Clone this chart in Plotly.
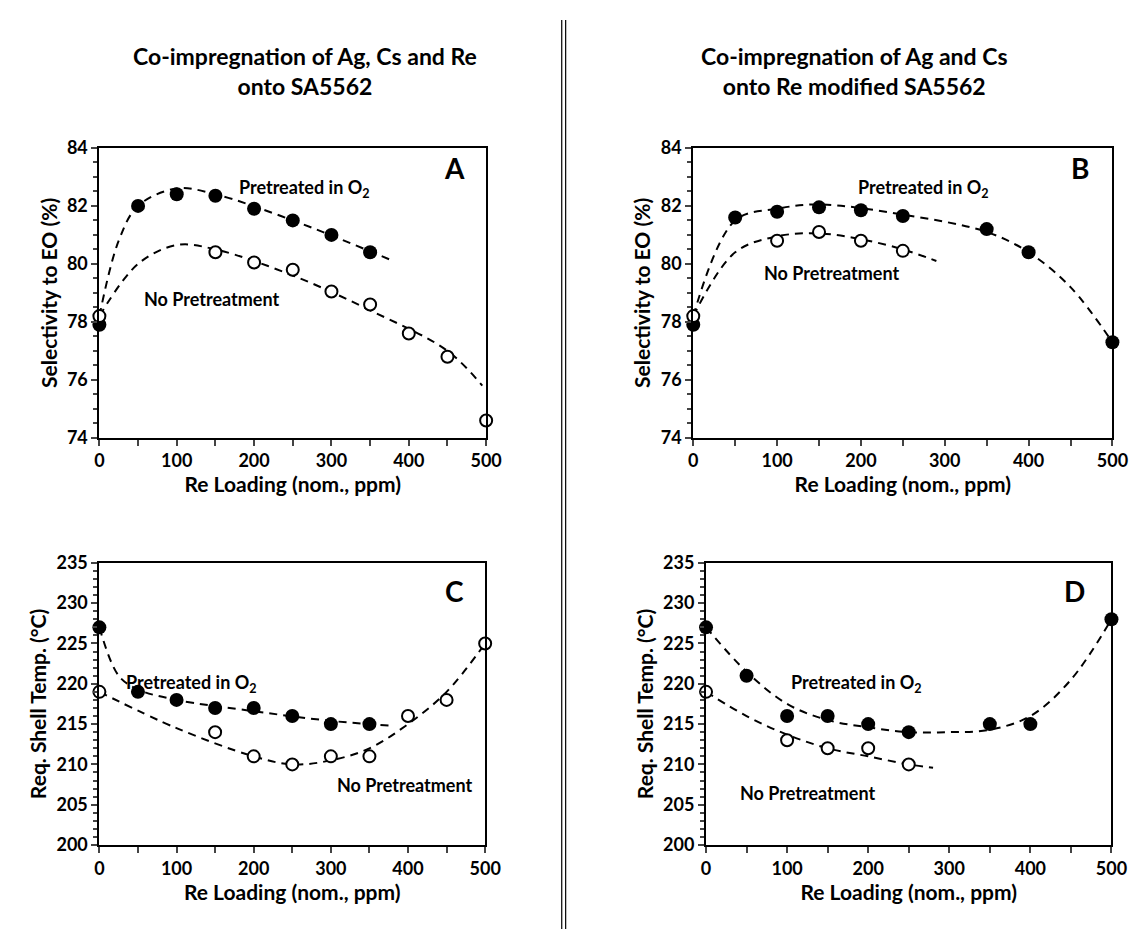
import plotly.graph_objects as go

# Panel A
a_x_f=[0,50,100,150,200,250,300,350]; a_y_f=[77.9,82.0,82.4,82.35,81.9,81.5,81.0,80.4]
a_x_o=[0,150,200,250,300,350,400,450,500]; a_y_o=[78.2,80.4,80.05,79.8,79.05,78.6,77.6,76.8,74.6]
a_cx_f=[0,25,50,100,150,250,380]; a_cy_f=[78.2,80.8,82.0,82.6,82.4,81.5,80.1]
a_cx_o=[0,50,100,150,250,350,450,495]; a_cy_o=[78.2,80.0,80.65,80.5,79.6,78.4,77.0,75.8]
# Panel B
b_x_f=[0,50,100,150,200,250,350,400,500]; b_y_f=[77.9,81.6,81.8,81.95,81.85,81.65,81.2,80.4,77.3]
b_x_o=[0,100,150,200,250]; b_y_o=[78.2,80.8,81.1,80.8,80.45]
b_cx_f=[0,50,100,150,250,350,400,450,500]; b_cy_f=[78.2,81.5,81.9,82.05,81.7,81.1,80.4,79.2,77.3]
b_cx_o=[0,50,100,150,200,250,290]; b_cy_o=[78.2,80.4,80.95,81.05,80.85,80.5,80.1]
# Panel C
c_x_f=[0,50,100,150,200,250,300,350]; c_y_f=[227,219,218,217,217,216,215,215]
c_x_o=[0,150,200,250,300,350,400,450,500]; c_y_o=[219,214,211,210,211,211,216,218,225]
c_cx_f=[0,25,50,100,200,300,380]; c_cy_f=[227,221,219.3,218,216.6,215.4,214.8]
c_cx_o=[0,100,200,250,300,350,400,450,500]; c_cy_o=[219,214.5,211,210,210.5,212,215,219,225]
# Panel D
d_x_f=[0,50,100,150,200,250,350,400,500]; d_y_f=[227,221,216,216,215,214,215,215,228]
d_x_o=[0,100,150,200,250]; d_y_o=[219,213,212,212,210]
d_cx_f=[0,50,100,150,200,250,300,350,400,450,500]; d_cy_f=[227,221.5,217.5,215.5,214.6,214,214,214.3,216,220.5,228]
d_cx_o=[0,50,100,150,200,250,280]; d_cy_o=[219,216,213.7,212,211,210,209.6]

FONT="Lato"
fig=go.Figure()
panels=[("x","y",a_x_f,a_y_f,a_x_o,a_y_o,a_cx_f,a_cy_f,a_cx_o,a_cy_o),
        ("x2","y2",b_x_f,b_y_f,b_x_o,b_y_o,b_cx_f,b_cy_f,b_cx_o,b_cy_o),
        ("x3","y3",c_x_f,c_y_f,c_x_o,c_y_o,c_cx_f,c_cy_f,c_cx_o,c_cy_o),
        ("x4","y4",d_x_f,d_y_f,d_x_o,d_y_o,d_cx_f,d_cy_f,d_cx_o,d_cy_o)]
for xa,ya,xf,yf,xo,yo,cxf,cyf,cxo,cyo in panels:
    for cx,cy in [(cxf,cyf),(cxo,cyo)]:
        fig.add_trace(go.Scatter(x=cx,y=cy,mode="lines",line=dict(color="black",width=2,dash="8px,6px",shape="spline"),xaxis=xa,yaxis=ya,showlegend=False))
    fig.add_trace(go.Scatter(x=xf,y=yf,mode="markers",marker=dict(size=14,color="black"),xaxis=xa,yaxis=ya,showlegend=False,cliponaxis=False))
    fig.add_trace(go.Scatter(x=xo,y=yo,mode="markers",marker=dict(size=12,color="white",line=dict(color="black",width=2)),xaxis=xa,yaxis=ya,showlegend=False,cliponaxis=False))

W,H=1143,931
def px(a,b): return [a/W,b/W]
def py(top,bot): return [1-bot/H,1-top/H]
xd=[px(88,482),px(693,1120),px(88,481),px(706,1119)]
yd=[py(131,428),py(131,428),py(556,845),py(556,845)]
yr=[[74,84],[74,84],[200,235],[200,235]]
ydt=[2,2,5,5]; ymt=[0.5,0.5,1,1]
ytitles=["Selectivity to EO (%)","Selectivity to EO (%)","Req. Shell Temp. (°C)","Req. Shell Temp. (°C)"]
lay={}
for i in range(4):
    s="" if i==0 else str(i+1)
    lay["xaxis"+s]=dict(domain=xd[i],range=[0,500],dtick=100,anchor="y"+s,showline=True,linecolor="black",linewidth=2,mirror=True,
        ticks="outside",ticklen=6,tickwidth=1.5,showgrid=False,zeroline=False,minor=dict(dtick=50,ticks="outside",ticklen=6,tickwidth=1.5),
        tickfont=dict(family=FONT,size=18,color="black",weight="bold"),title=dict(text="Re Loading (nom., ppm)",font=dict(family=FONT,size=21,color="black",weight="bold"),standoff=2))
    lay["yaxis"+s]=dict(domain=yd[i],range=yr[i],dtick=ydt[i],anchor="x"+s,showline=True,linecolor="black",linewidth=2,mirror=True,
        ticks="outside",ticklen=6,tickwidth=1.5,showgrid=False,zeroline=False,minor=dict(dtick=ymt[i],ticks="outside",ticklen=4,tickwidth=1.5),
        tickfont=dict(family=FONT,size=18,color="black",weight="bold"),title=dict(text=ytitles[i],font=dict(family=FONT,size=21,color="black",weight="bold"),standoff=4))
fig.update_layout(**lay)
fig.update_layout(width=W,height=H,margin=dict(l=0,r=0,t=0,b=0),plot_bgcolor="white",paper_bgcolor="white")

def ann(x,y,t,sz=18,xref="paper",yref="paper"):
    fig.add_annotation(x=x,y=y,xref=xref,yref=yref,text=t,showarrow=False,xanchor="center",yanchor="middle",
                       font=dict(family=FONT,size=sz,color="black",weight="bold"))
ann(297/W,1-52/H,"Co-impregnation of Ag, Cs and Re<br>onto SA5562",23)
ann(857/W,1-52/H,"Co-impregnation of Ag and Cs<br>onto Re modified SA5562",23)
for xa,ya,lx,ly,ltxt in [("x","y",475,83.3,"A"),("x2","y2",475,83.3,"B"),("x3","y3",475,231.5,"C"),("x4","y4",470,231.5,"D")]:
    fig.add_annotation(x=lx,y=ly,xref=xa,yref=ya,text=ltxt,showarrow=False,xanchor="right",font=dict(family=FONT,size=28,color="black",weight="bold"))
txt=[("x","y",265,82.6,"Pretreated in O<sub>2</sub>"),("x","y",145,78.8,"No Pretreatment"),
     ("x2","y2",275,82.6,"Pretreated in O<sub>2</sub>"),("x2","y2",165,79.7,"No Pretreatment"),
     ("x3","y3",120,220,"Pretreated in O<sub>2</sub>"),("x3","y3",395,207.5,"No Pretreatment"),
     ("x4","y4",185,220,"Pretreated in O<sub>2</sub>"),("x4","y4",125,206.5,"No Pretreatment")]
for xa,ya,x,y,t in txt:
    ann(x,y,t,18,xa,ya)
for xx in [559,563]:
    fig.add_shape(type="line",xref="paper",yref="paper",x0=xx/W,x1=xx/W,y0=0,y1=1,line=dict(color="black",width=1.2))
fig.write_html("out.html")
